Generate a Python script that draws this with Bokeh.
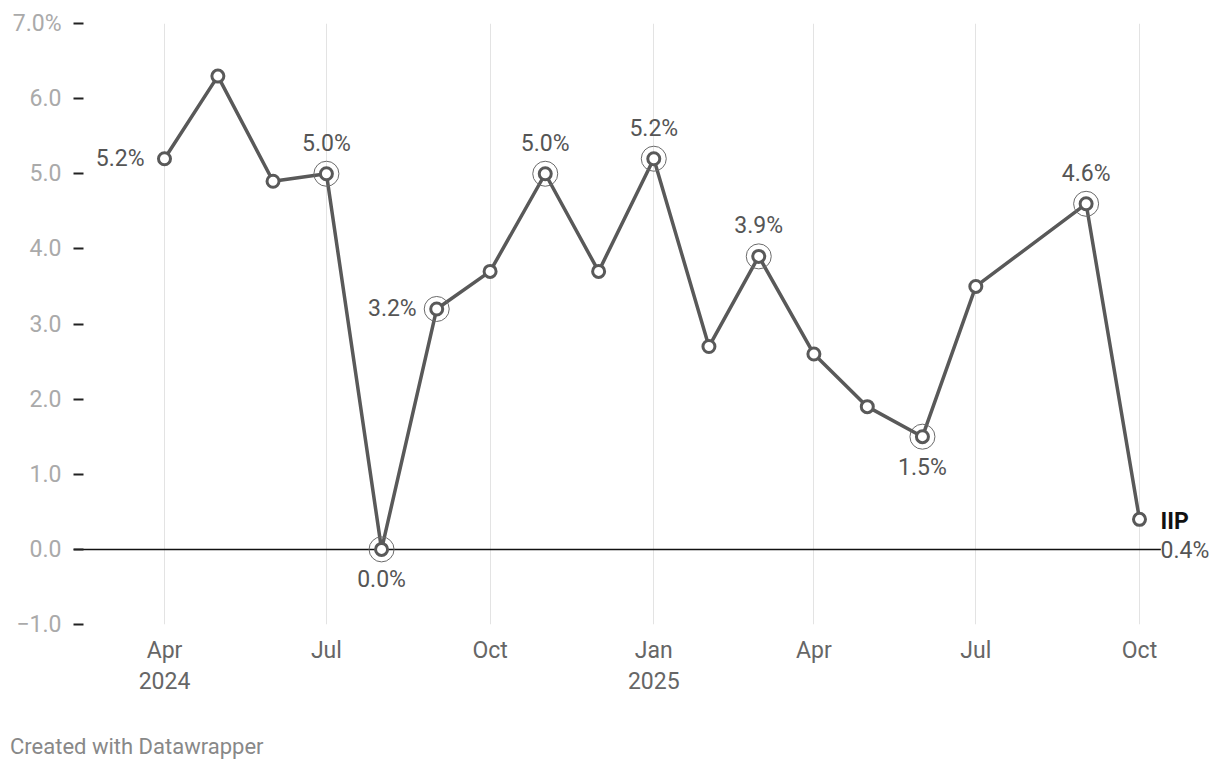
from datetime import datetime, timedelta
from bokeh.plotting import figure
from bokeh.models import (ColumnDataSource, FixedTicker, CustomJSTickFormatter, Div)
from bokeh.layouts import column
from bokeh.core.properties import value
from bokeh.embed import file_html
from bokeh.resources import INLINE

# ---- data ----
months = ["2024-04", "2024-05", "2024-06", "2024-07", "2024-08", "2024-09", "2024-10",
          "2024-11", "2024-12", "2025-01", "2025-02", "2025-03", "2025-04", "2025-05",
          "2025-06", "2025-07", "2025-09", "2025-10"]
iip = [5.2, 6.3, 4.9, 5.0, 0.0, 3.2, 3.7, 5.0, 3.7, 5.2, 2.7, 3.9, 2.6, 1.9, 1.5, 3.5, 4.6, 0.4]
highlight = ["2024-07", "2024-08", "2024-09", "2024-11", "2025-01", "2025-03", "2025-06", "2025-09"]
label_months = ["2024-04", "2024-07", "2024-08", "2024-09", "2024-11", "2025-01", "2025-03",
                "2025-06", "2025-09"]
label_pos = ["left", "above", "below", "left", "above", "above", "above", "below", "above"]
tick_months = ["2024-04", "2024-07", "2024-10", "2025-01", "2025-04", "2025-07", "2025-10"]
y_ticks = [-1, 0, 1, 2, 3, 4, 5, 6, 7]
series_name = "IIP"

def d(m):
    return datetime.strptime(m + "-01", "%Y-%m-%d")

xs = [d(m) for m in months]
val = dict(zip(months, iip))

# ---- layout ----
ppd = 975 / 548.0
x_start = d("2024-04") - timedelta(days=91 / ppd)
x_end = x_start + timedelta(days=1144 / ppd)

FONT = "Roboto"
FS = "23px"
p = figure(width=1217, height=697, x_axis_type="datetime",
           x_range=(x_start, x_end), y_range=(-1, 7),
           output_backend="svg", toolbar_location=None,
           min_border_left=73, min_border_right=0, min_border_top=23,
           min_border_bottom=10)
p.outline_line_color = None
p.background_fill_color = "white"
p.border_fill_color = "white"

# grid
p.ygrid.grid_line_color = None
p.xgrid.grid_line_color = "#e3e3e3"
p.xgrid.grid_line_width = 1
tick_ms = [d(m).timestamp() * 1000 for m in tick_months]
p.xaxis.ticker = FixedTicker(ticks=tick_ms)
p.xgrid.ticker = FixedTicker(ticks=tick_ms)

p.xaxis.formatter = CustomJSTickFormatter(code="""
const dt = new Date(tick);
const names = ["Jan","Feb","Mar","Apr","May","Jun","Jul","Aug","Sep","Oct","Nov","Dec"];
const m = dt.getUTCMonth();
let s = names[m];
if (m == 0 || index == 0) { s += "\\n" + dt.getUTCFullYear(); }
return s;
""")
p.xaxis.axis_line_color = None
p.xaxis.major_tick_line_color = None
p.xaxis.minor_tick_line_color = None
p.xaxis.major_label_text_font = FONT
p.xaxis.major_label_text_font_size = FS
p.xaxis.major_label_text_color = "#666666"
p.xaxis.major_label_standoff = 6
p.xaxis.major_label_text_line_height = 1.15

p.yaxis.ticker = FixedTicker(ticks=y_ticks)
p.yaxis.formatter = CustomJSTickFormatter(code="""
let s = tick.toFixed(1).replace("-", "\\u2212");
if (tick == 7) { s += "%"; }
return s;
""")
p.yaxis.axis_line_color = None
p.yaxis.minor_tick_line_color = None
p.yaxis.major_tick_line_color = "#222222"
p.yaxis.major_tick_line_width = 2
p.yaxis.major_tick_in = 10
p.yaxis.major_tick_out = 0
p.yaxis.major_label_standoff = 12
p.yaxis.major_label_text_font = FONT
p.yaxis.major_label_text_font_size = FS
p.yaxis.major_label_text_color = "#aaaaaa"

# zero line
p.line(x=[x_start, d("2025-10") + timedelta(days=12)], y=[0, 0],
       line_color="#111111", line_width=1.5)

# series line
src = ColumnDataSource(dict(x=xs, y=iip))
p.line("x", "y", source=src, line_color="#595959", line_width=3.5)

# highlight rings
hs = ColumnDataSource(dict(x=[d(m) for m in highlight], y=[val[m] for m in highlight]))
p.scatter("x", "y", source=hs, size=25, fill_color=None, line_color="#6a6a6a", line_width=1)

# points
p.scatter("x", "y", source=src, size=12, fill_color="white", line_color="#595959", line_width=3)

# value labels
offsets = {"left": (-20, 0, "right", "middle"),
           "above": (0, -17, "center", "bottom"),
           "below": (0, 17, "center", "top")}
for pos in ["left", "above", "below"]:
    ms = [m for m, ps in zip(label_months, label_pos) if ps == pos]
    if not ms:
        continue
    dx, dy, al, bl = offsets[pos]
    ls = ColumnDataSource(dict(x=[d(m) for m in ms], y=[val[m] for m in ms],
                               t=["%.1f%%" % val[m] for m in ms]))
    p.text("x", "y", text="t", source=ls, x_offset=dx, y_offset=dy,
           text_align=al, text_baseline=bl, text_font=value(FONT),
           text_font_size=FS, text_color="#555555")

# end labels
last = months[-1]
p.text(x=[d(last)], y=[val[last]], text=[series_name], x_offset=21, y_offset=2,
       text_align="left", text_baseline="middle", text_font=value(FONT),
       text_font_size=FS, text_font_style="bold", text_color="#111111")
p.text(x=[d(last)], y=[0], text=["%.1f%%" % val[last]], x_offset=21, y_offset=1,
       text_align="left", text_baseline="middle", text_font=value(FONT),
       text_font_size=FS, text_color="#555555")

credit = Div(text="Created with Datawrapper", width=400, height=28,
             styles={"font-family": "Roboto", "font-size": "22px", "color": "#888888",
                     "margin-left": "10px", "margin-top": "34px"})

layout = column(p, credit)
open("out.html", "w").write(file_html(layout, INLINE))
